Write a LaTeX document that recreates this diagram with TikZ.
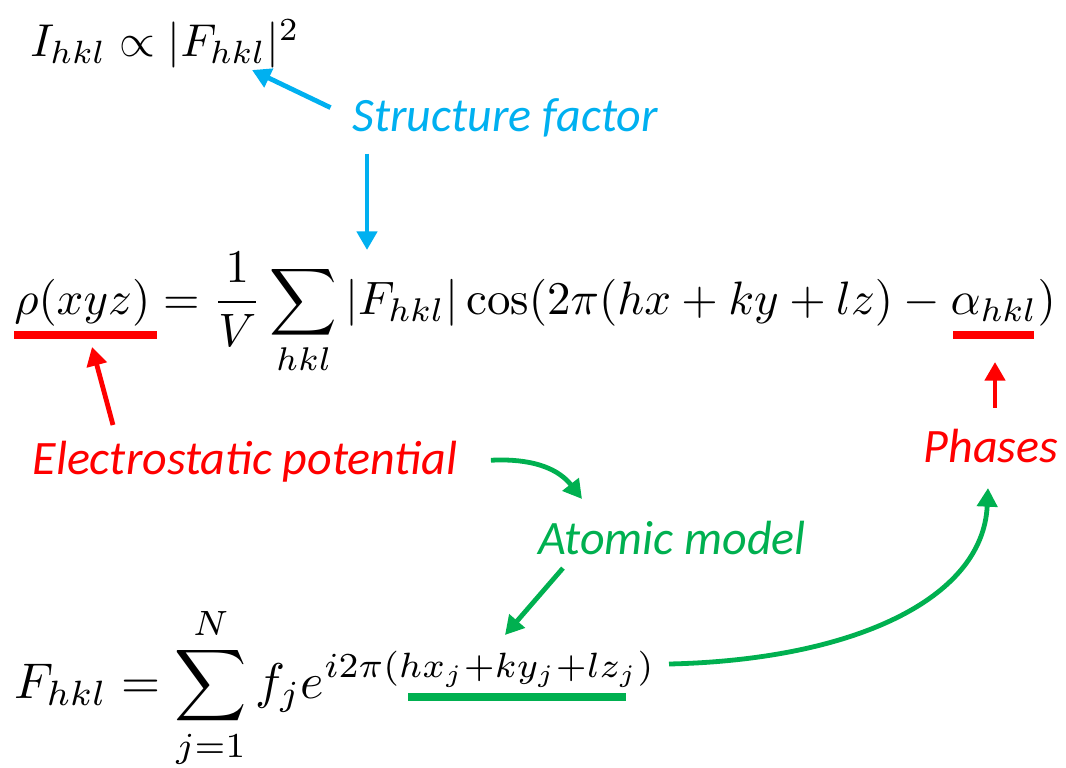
\documentclass[tikz,border=0pt]{standalone}
\usepackage{amsmath}
\usepackage{graphicx}
\usepackage{fontspec}
\newfontfamily\lblfont{Carlito}
\usetikzlibrary{arrows.meta,calc}
\definecolor{xrdblue}{HTML}{00B0F0}
\definecolor{xrdred}{HTML}{FF0000}
\definecolor{xrdgreen}{HTML}{00B050}

\begin{document}
\begin{tikzpicture}[x=0.75pt,y=0.75pt,
  lbl/.style={inner sep=0pt,font=\lblfont\itshape\fontsize{36}{43}\selectfont},
  eqn/.style={inner sep=0pt,anchor=base west},
  arr/.style={line width=3.6pt,-{Triangle[length=14pt,width=15pt]}},
  bar/.style={line width=5.5pt}]
  \useasboundingbox (0,0) rectangle (1066,-767);
  % equations
  \node[eqn] (intens) at (30,-57) {\resizebox{202pt}{!}{$I_{hkl}\propto|F_{hkl}|^2$}};
  \node[eqn] (density) at (14,-314) {\resizebox{781pt}{!}{$\displaystyle\rho(xyz)=\frac{1}{V}\sum_{hkl}|F_{hkl}|\cos(2\pi(hx+ky+lz)-\alpha_{hkl})$}};
  \node[eqn] (sfeq) at (14,-698) {\resizebox{481pt}{!}{$\displaystyle F_{hkl}=\sum_{j=1}^{N}f_je^{i2\pi(hx_j+ky_j+lz_j)}$}};
  % labels
  \node[lbl,text=xrdblue] (sfact) at (505,-118) {Structure factor};
  \node[lbl,text=xrdred] (elpot) at (245,-462) {Electrostatic potential};
  \node[lbl,text=xrdred] (phases) at (991,-446) {Phases};
  \node[lbl,text=xrdgreen] (atmodel) at (672,-538) {Atomic model};
  % arrow tips
  \coordinate (ftip) at (252,-70);
  \coordinate (sumtip) at (367,-250);
  \coordinate (rhotip) at (92,-347);
  \coordinate (alphatip) at (995,-362);
  \coordinate (modeltip) at (582,-499);
  \coordinate (exptip) at (505,-635);
  \coordinate (phasetip) at (988,-488);
  % underlines
  \draw[bar,xrdred] (14,-335) -- (157,-335);
  \draw[bar,xrdred] (953,-335) -- (1034,-335);
  \draw[bar,xrdgreen] (408,-697) -- (626,-697);
  % arrows
  \draw[arr,xrdblue,shorten <=18pt] (sfact.west) -- (ftip);
  \draw[arr,xrdblue,shorten <=12pt] (sfact.south west -| sumtip) -- (sumtip);
  \draw[arr,xrdred] (113,-425) -- (rhotip);
  \draw[arr,xrdred,shorten <=16pt] (phases.north -| alphatip) -- (alphatip);
  \draw[arr,xrdgreen,shorten <=25pt] (elpot.east) to[out=3,in=128] (modeltip);
  \draw[arr,xrdgreen] ($(atmodel.south west)+(25,-13)$) -- (exptip);
  \draw[arr,xrdgreen] (669,-664) .. controls +(182,4) and +(-5,-112) .. (phasetip);
\end{tikzpicture}
\end{document}
